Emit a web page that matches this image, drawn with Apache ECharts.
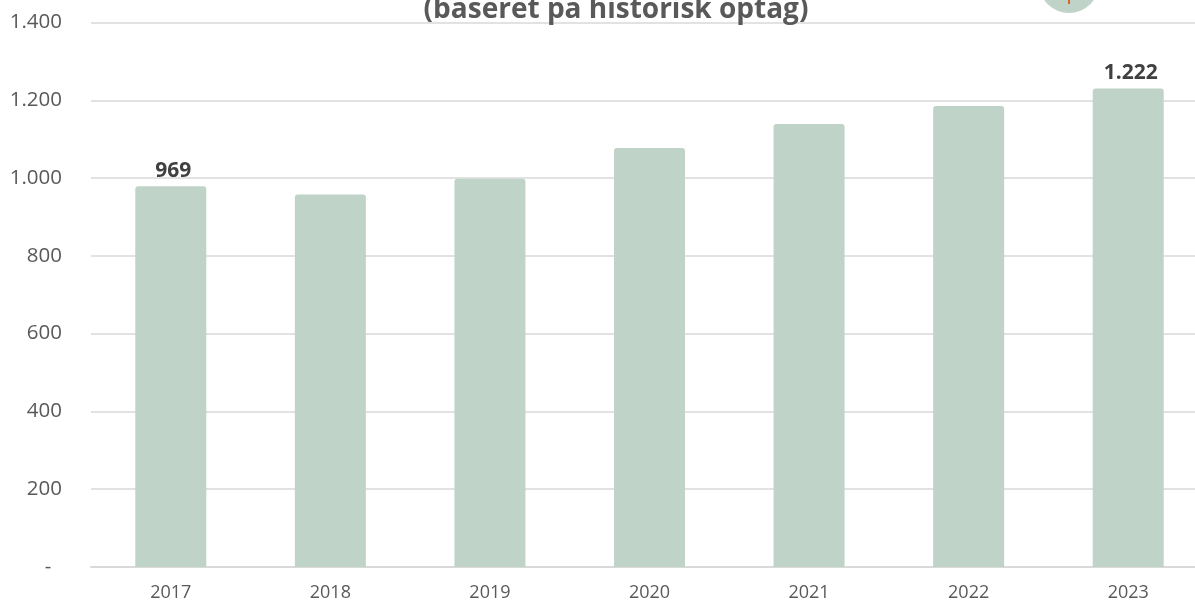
<!DOCTYPE html>
<html lang="da">
  <head>
    <meta charset="UTF-8" />
    <title>Optag</title>
    <script src="https://cdn.jsdelivr.net/npm/echarts@6/dist/echarts.min.js"></script>
    <style>
      html, body { margin: 0; padding: 0; background: #fff; overflow: hidden; }
    </style>
  </head>
  <body>
    <div id="main" style="width: 1195px; height: 601px"></div>
    <script>
      var years = ["2017", "2018", "2019", "2020", "2021", "2022", "2023"];
      var heights = [979, 958, 998, 1077, 1139, 1185, 1230];
      var barLabels = ["969", "", "", "", "", "", "1.222"];
      var yTicks = { 0: "-  ", 200: "200", 400: "400", 600: "600", 800: "800", 1000: "1.000", 1200: "1.200", 1400: "1.400" };
      var titleText = "(baseret på historisk optag)";

      var font = "'Open Sans', 'Noto Sans', sans-serif";
      var myChart = echarts.init(document.getElementById("main"));
      var option = {
        animation: false,
        backgroundColor: "#fff",
        title: {
          text: titleText,
          left: 611,
          top: -9,
          textAlign: "center",
          textStyle: { fontFamily: font, fontSize: 28, fontWeight: "bold", color: "#595959" },
        },
        grid: { left: 91, right: -13, top: 22.5, bottom: 34, outerBoundsMode: "none" },
        xAxis: {
          type: "category",
          data: years,
          axisTick: { show: false },
          axisLine: { lineStyle: { color: "#d9d9d9", width: 2 } },
          axisLabel: { color: "#595959", fontFamily: font, fontSize: 18, margin: 17 },
        },
        yAxis: {
          type: "value",
          min: 0,
          max: 1400,
          interval: 200,
          axisLine: { show: false },
          axisTick: { show: false },
          splitLine: { lineStyle: { color: "#d9d9d9", width: 1.5 } },
          axisLabel: {
            color: "#595959",
            fontFamily: font,
            fontSize: 20.5,
            margin: 29,
            formatter: function (v) { return yTicks[v]; },
          },
        },
        series: [
          {
            type: "bar",
            data: heights,
            barWidth: 71,
            itemStyle: { color: "#bfd3c8", borderRadius: [3, 3, 0, 0] },
            label: {
              show: true,
              position: "top",
              distance: 5,
              offset: [2.5, 0],
              color: "#404040",
              fontFamily: font,
              fontSize: 21,
              fontWeight: "bold",
              formatter: function (p) { return barLabels[p.dataIndex]; },
            },
          },
        ],
        graphic: [
          { type: "circle", shape: { cx: 1069, cy: -17, r: 30 }, style: { fill: "#bfd3c8" } },
          { type: "rect", shape: { x: 1068, y: 0, width: 2, height: 4 }, style: { fill: "#d9652b" } },
        ],
      };
      myChart.setOption(option);
    </script>
  </body>
</html>
